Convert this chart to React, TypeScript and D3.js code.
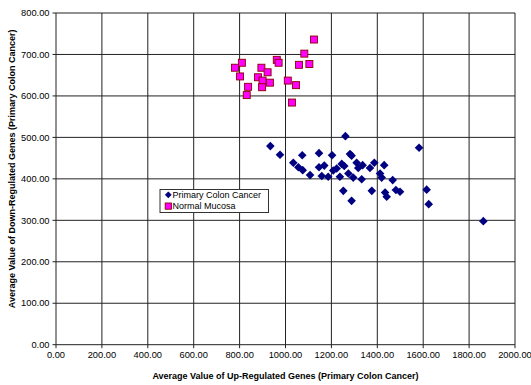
import React from "react";
import * as d3 from "d3";

const W = 531;
const H = 385;

const xTicks = [0, 200, 400, 600, 800, 1000, 1200, 1400, 1600, 1800, 2000];
const yTicks = [0, 100, 200, 300, 400, 500, 600, 700, 800];

const seriesNames = ["Primary Colon Cancer", "Normal Mucosa"];

const cancerX = [1073, 1146, 1203, 1281, 1288, 1034, 1056, 1075, 1107, 1146, 1169, 1158, 1186, 1208, 1223, 1245, 1256, 1274, 1237, 1310, 1317, 1295, 1336, 1332, 1368, 1387, 1430, 1412, 1419, 1467, 1252, 1288, 1376, 1434, 1441, 1481, 934, 976, 1261, 1582, 1499, 1615, 1624, 1862];
const cancerY = [457, 462, 457, 460, 456, 439, 428, 421, 409, 428, 432, 407, 405, 420, 425, 436, 431, 413, 405, 439, 426, 403, 433, 399, 426, 439, 433, 413, 403, 397, 371, 347, 371, 367, 357, 373, 479, 458, 503, 475, 369, 374, 339, 298];

const mucosaX = [1124, 1082, 1104, 1059, 962, 970, 810, 780, 895, 922, 802, 880, 900, 932, 1010, 1046, 898, 837, 831, 1028];
const mucosaY = [736, 702, 677, 675, 687, 680, 680, 668, 668, 657, 647, 645, 637, 632, 637, 626, 621, 622, 602, 584];

const margin = { left: 56, right: 515, top: 13, bottom: 344.7 };

function diamondPath(r: number) {
  const p = d3.path();
  p.moveTo(0, -r);
  p.lineTo(r, 0);
  p.lineTo(0, r);
  p.lineTo(-r, 0);
  p.closePath();
  return p.toString();
}

export default function App() {
  const x = d3.scaleLinear().domain([0, 2000]).range([margin.left, margin.right]);
  const y = d3.scaleLinear().domain([0, 800]).range([margin.bottom, margin.top]);
  const fmt = d3.format(".2f");
  const font = "'Liberation Sans', Arial, sans-serif";
  const diamond = diamondPath(4.3);
  const legendDiamond = diamondPath(3.4);
  const sq = 3.5;

  return (
    <svg
      width={W}
      height={H}
      style={{ position: "absolute", left: 0, top: 0, background: "#fff" }}
      fontFamily={font}
    >
      <rect x={0} y={0} width={W} height={H} fill="#fff" />
      {yTicks.map((t) => (
        <line key={"gy" + t} x1={margin.left} x2={margin.right} y1={y(t)} y2={y(t)} stroke="#222" strokeWidth={1} />
      ))}
      {xTicks.map((t) => (
        <line key={"gx" + t} x1={x(t)} x2={x(t)} y1={margin.top} y2={margin.bottom} stroke="#222" strokeWidth={1} />
      ))}
      {yTicks.map((t) => (
        <line key={"ty" + t} x1={margin.left - 3.5} x2={margin.left} y1={y(t)} y2={y(t)} stroke="#222" />
      ))}
      {xTicks.map((t) => (
        <line key={"tx" + t} x1={x(t)} x2={x(t)} y1={margin.bottom} y2={margin.bottom + 3.5} stroke="#222" />
      ))}
      {yTicks.map((t) => (
        <text key={"ly" + t} x={49.5} y={y(t) + 3.2} fontSize={9.3} textAnchor="end" fill="#000">
          {fmt(t)}
        </text>
      ))}
      {xTicks.map((t) => (
        <text key={"lx" + t} x={x(t)} y={357.5} fontSize={9.3} textAnchor="middle" fill="#000">
          {fmt(t)}
        </text>
      ))}
      <text x={(margin.left + margin.right) / 2} y={378.5} fontSize={9} fontWeight="bold" textAnchor="middle" fill="#000">
        Average Value of Up-Regulated Genes (Primary Colon Cancer)
      </text>
      <text
        transform={`translate(14.5, ${(margin.top + margin.bottom) / 2 - 10}) rotate(-90)`}
        fontSize={9}
        fontWeight="bold"
        textAnchor="middle"
        fill="#000"
      >
        Average Value of Down-Regulated Genes (Primary Colon Cancer)
      </text>
      {mucosaX.map((v, i) => (
        <rect
          key={"m" + i}
          x={x(v) - sq}
          y={y(mucosaY[i]) - sq}
          width={sq * 2}
          height={sq * 2}
          fill="#ff00ff"
          stroke="#8b0000"
          strokeWidth={0.9}
        />
      ))}
      {cancerX.map((v, i) => (
        <path key={"c" + i} d={diamond} transform={`translate(${x(v)},${y(cancerY[i])})`} fill="#000080" />
      ))}
      <g>
        <rect x={160} y={189.5} width={108.5} height={23} fill="#fff" stroke="#333" strokeWidth={1} />
        <path d={legendDiamond} transform={`translate(168.3,194.8)`} fill="#000080" />
        <rect x={165.2} y={203} width={6.2} height={6.2} fill="#ff00ff" stroke="#8b0000" strokeWidth={0.9} />
        <text x={172.5} y={198} fontSize={9} fill="#000">
          {seriesNames[0]}
        </text>
        <text x={172.5} y={209.2} fontSize={9} fill="#000">
          {seriesNames[1]}
        </text>
      </g>
    </svg>
  );
}
